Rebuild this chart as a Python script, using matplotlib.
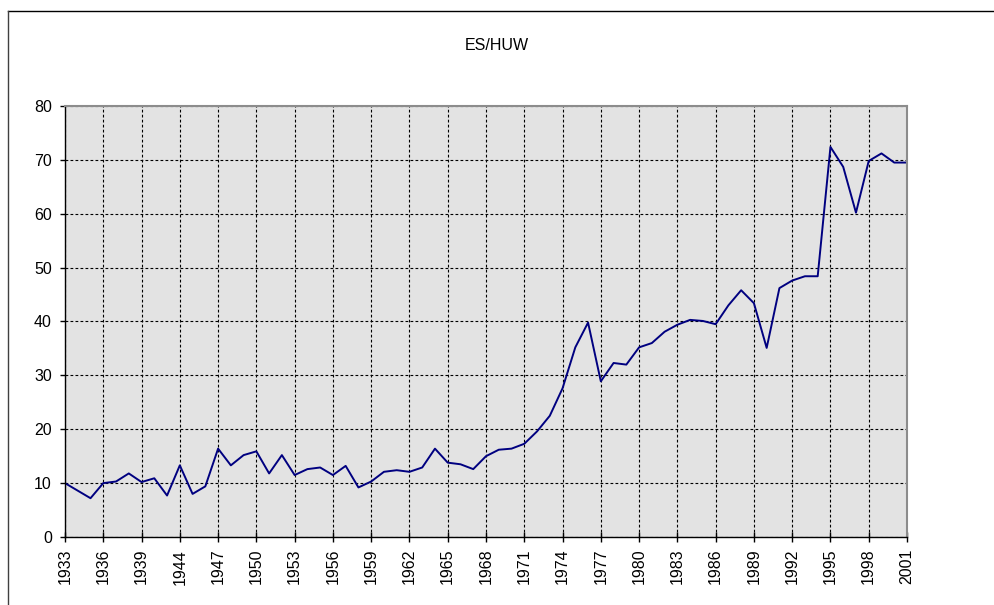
import matplotlib.pyplot as plt
from matplotlib.lines import Line2D

# Yearly values (two war years in between 1939 and 1944)
years = [1933, 1934, 1935, 1936, 1937, 1938, 1939, 1940, 1941,
         1944, 1945, 1946, 1947, 1948, 1949, 1950, 1951, 1952, 1953,
         1954, 1955, 1956, 1957, 1958, 1959, 1960, 1961, 1962, 1963,
         1964, 1965, 1966, 1967, 1968, 1969, 1970, 1971, 1972, 1973,
         1974, 1975, 1976, 1977, 1978, 1979, 1980, 1981, 1982, 1983,
         1984, 1985, 1986, 1987, 1988, 1989, 1990, 1991, 1992, 1993,
         1994, 1995, 1996, 1997, 1998, 1999, 2000, 2001]
values = [10.0, 8.6, 7.2, 10.0, 10.3, 11.8, 10.2, 10.9, 7.7,
          13.3, 8.0, 9.4, 16.4, 13.3, 15.2, 15.9, 11.8, 15.2, 11.5,
          12.6, 12.9, 11.5, 13.2, 9.2, 10.3, 12.1, 12.4, 12.1, 12.9,
          16.4, 13.8, 13.5, 12.6, 15.0, 16.2, 16.4, 17.3, 19.6, 22.5,
          27.6, 35.2, 39.8, 28.9, 32.3, 32.0, 35.2, 36.0, 38.1, 39.4,
          40.3, 40.1, 39.5, 43.0, 45.8, 43.4, 35.1, 46.2, 47.6, 48.4,
          48.4, 72.4, 68.7, 60.2, 69.8, 71.2, 69.5, 69.5]
title = "ES/HUW"
y_ticks = [0, 10, 20, 30, 40, 50, 60, 70, 80]

plt.rcParams['font.family'] = ['Liberation Sans', 'DejaVu Sans']

fig = plt.figure(figsize=(9.94, 6.05), dpi=100)
ax = fig.add_axes([65 / 994, 68 / 605, 842 / 994, 431 / 605])
ax.set_facecolor('#e3e3e3')

pos = list(range(len(years)))
ax.plot(pos, values, color='#000080', lw=1.4)

ax.set_xlim(0, len(years) - 1)
ax.set_ylim(0, 80)
ax.set_yticks(y_ticks)
ax.set_xticks(pos[::3])
ax.set_xticklabels([str(y) for y in years[::3]], rotation=90, va='top', ha='center')

ax.grid(True, color='black', lw=0.8, linestyle=(0, (2.5, 2)))
ax.set_axisbelow(True)

ax.tick_params(axis='x', direction='inout', length=7, width=1, pad=5, labelsize=11.5)
ax.tick_params(axis='y', direction='out', length=3.5, width=1, pad=6, labelsize=11.5)

for side in ['left', 'bottom']:
    ax.spines[side].set_color('black')
    ax.spines[side].set_linewidth(1)
for side in ['top', 'right']:
    ax.spines[side].set_color('#8c8c8c')
    ax.spines[side].set_linewidth(1.5)

fig.text(497 / 994, 1 - 45 / 605, title, ha='center', va='center', fontsize=11.5)

# chart area frame (top and left edges are visible)
fig.add_artist(Line2D([8 / 994, 1], [1 - 11 / 605, 1 - 11 / 605], color='black', lw=1))
fig.add_artist(Line2D([8 / 994, 8 / 994], [0, 1 - 11 / 605], color='#404040', lw=1))

fig.savefig('out.png', dpi=100)
